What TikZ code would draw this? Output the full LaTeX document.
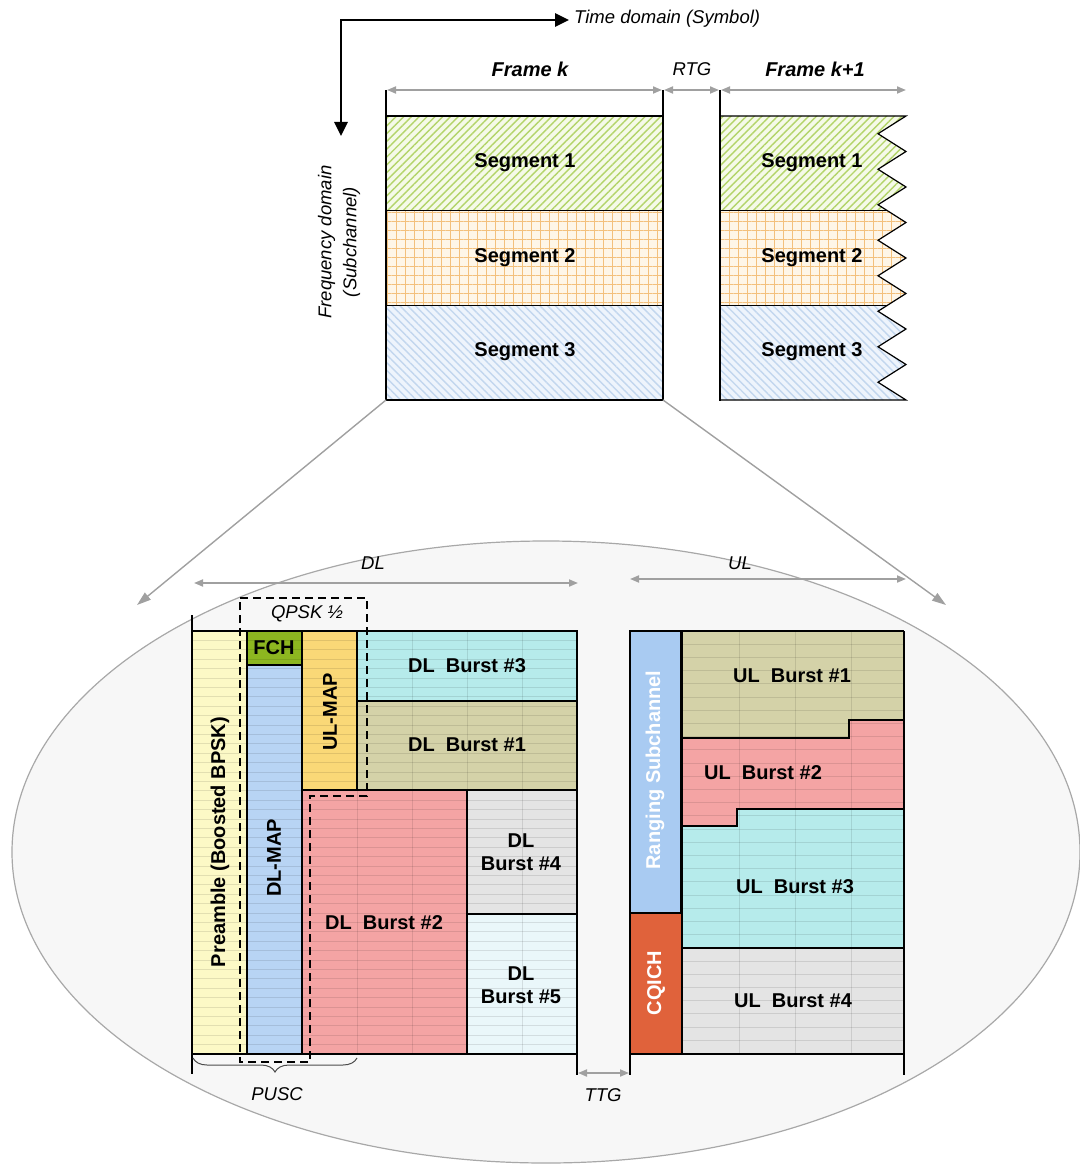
\documentclass[tikz,border=0pt]{standalone}
\usepackage{fontspec}
\setmainfont{Liberation Sans}
\usetikzlibrary{arrows.meta,patterns.meta,decorations.pathreplacing,calc}
\definecolor{seggreenbg}{HTML}{F5FAE8}
\definecolor{seggreen}{HTML}{B3D46A}
\definecolor{segorangebg}{HTML}{FEF6E8}
\definecolor{segorange}{HTML}{F3C07C}
\definecolor{segbluebg}{HTML}{EEF4FC}
\definecolor{segblue}{HTML}{C2D6EE}
\definecolor{preyellow}{HTML}{FCF9C6}
\definecolor{fchgreen}{HTML}{8DB620}
\definecolor{mapblue}{HTML}{B8D4F4}
\definecolor{ulmapyellow}{HTML}{FAD877}
\definecolor{burstcyan}{HTML}{B6EBEB}
\definecolor{burstkhaki}{HTML}{D4D2A8}
\definecolor{burstpink}{HTML}{F4A4A4}
\definecolor{burstgray}{HTML}{E4E4E4}
\definecolor{burstlight}{HTML}{EAF7FA}
\definecolor{rangingblue}{HTML}{A9CBF2}
\definecolor{cqichred}{HTML}{E0623B}
\definecolor{ellfill}{HTML}{F7F7F7}
\definecolor{ellline}{HTML}{A8A8A8}
\definecolor{dimgray}{HTML}{A0A0A0}
\begin{document}
\begin{tikzpicture}[x=1pt,y=-1pt,
  lbl/.style={font=\fontsize{18.5}{24}\selectfont\itshape, inner sep=0pt},
  blbl/.style={font=\fontsize{20}{23}\selectfont\bfseries, inner sep=0pt, align=center},
  bilbl/.style={font=\fontsize{20}{23}\selectfont\bfseries\itshape, inner sep=0pt},
  dimline/.style={draw=dimgray, line width=1.8pt, {Triangle[length=9pt,width=7pt]}-{Triangle[length=9pt,width=7pt]}},
  axisline/.style={line width=2.6pt, line join=miter, {Triangle[length=14pt,width=13pt]}-{Triangle[length=14pt,width=13pt]}},
  zoomline/.style={draw=dimgray, line width=1.4pt, -{Triangle[length=14pt,width=9pt]}},
  blk/.style={draw=black, line width=1.2pt},
  thickline/.style={line width=2.4pt},
  gridl/.style={draw=black, opacity=0.10, line width=0.8pt},
  pat1/.style={preaction={fill=seggreenbg}, pattern={Lines[angle=45,distance=5.5pt,line width=1.4pt]}, pattern color=seggreen},
  pat2/.style={preaction={fill=segorangebg}, pattern={Hatch[angle=0,distance=9pt,line width=0.7pt]}, pattern color=segorange},
  pat3/.style={preaction={fill=segbluebg}, pattern={Lines[angle=-45,distance=5.5pt,line width=1.4pt]}, pattern color=segblue}
]
\useasboundingbox (0,0) rectangle (1079,1166);

% ---------- axes ----------
\coordinate (axT) at (569,20);
\coordinate (ax0) at (341,20);
\coordinate (axF) at (341,136);
\draw[axisline] (axT) -- (ax0) -- (axF);
\node[lbl, anchor=west] (timelbl) at (574,19) {Time domain (Symbol)};
\node[lbl, rotate=90, align=center, font=\fontsize{18.5}{25}\selectfont\itshape] (freqlbl) at (339,242) {Frequency domain\\(Subchannel)};

% ---------- ellipse (zoom) ----------
\draw[fill=ellfill, draw=ellline, line width=1.2pt] (546,852) ellipse [x radius=534pt, y radius=311pt];

% ---------- Frame k ----------
\path[pat1] (386,116) rectangle (663,210.7);
\path[pat2] (386,210.7) rectangle (663,305.3);
\path[pat3] (386,305.3) rectangle (663,400);
\draw[blk] (386,116) -- (663,116);
\draw[blk] (386,210.7) -- (663,210.7);
\draw[blk] (386,305.3) -- (663,305.3);
\draw[blk] (386,400) -- (663,400);
\draw[thickline] (386,90) -- (386,401);
\draw[thickline] (663,90) -- (663,401);
\coordinate (fkBL) at (386,400);
\coordinate (fkBR) at (663,400);
\node[blbl] (fks1) at (525,163) {Segment 1};
\node[blbl] (fks2) at (525,258) {Segment 2};
\node[blbl] (fks3) at (525,352) {Segment 3};

% ---------- Frame k+1 ----------
\begin{scope}
\clip (720,116) -- (906,116) \foreach \k in {0,...,7} { -- (878,{133.75+35.5*\k}) -- (906,{151.5+35.5*\k}) } -- (720,400) -- cycle;
\path[pat1] (720,116) rectangle (910,210.7);
\path[pat2] (720,210.7) rectangle (910,305.3);
\path[pat3] (720,305.3) rectangle (910,400);
\draw[blk] (720,210.7) -- (910,210.7);
\draw[blk] (720,305.3) -- (910,305.3);
\end{scope}
\draw[blk, line join=miter] (720,116) -- (906,116) \foreach \k in {0,...,7} { -- (878,{133.75+35.5*\k}) -- (906,{151.5+35.5*\k}) } -- (720,400);
\draw[thickline] (720,90) -- (720,401);
\node[blbl] (fk1s1) at (812,163) {Segment 1};
\node[blbl] (fk1s2) at (812,258) {Segment 2};
\node[blbl] (fk1s3) at (812,352) {Segment 3};

% ---------- frame dimension arrows ----------
\coordinate (dk0) at (387,90); \coordinate (dk1) at (662,90);
\coordinate (dr0) at (664,90); \coordinate (dr1) at (719,90);
\coordinate (dn0) at (721,90); \coordinate (dn1) at (906,90);
\draw[dimline] (dk0) -- (dk1);
\draw[dimline] (dr0) -- (dr1);
\draw[dimline] (dn0) -- (dn1);
\node[bilbl] (framek) at (530,69) {Frame k};
\node[lbl] (rtg) at (692,69) {RTG};
\node[bilbl] (framek1) at (815,69) {Frame k+1};

% ---------- zoom lines ----------
\coordinate (zl) at (137,605);
\coordinate (zr) at (946,605);
\draw[zoomline] (fkBL) -- (zl);
\draw[zoomline] (fkBR) -- (zr);

% ---------- DL / UL dimension ----------
\coordinate (dl0) at (194,583); \coordinate (dl1) at (578,583);
\coordinate (ul0) at (630,579); \coordinate (ul1) at (906,579);
\draw[dimline] (dl0) -- (dl1);
\draw[dimline] (ul0) -- (ul1);
\node[lbl] (dllbl) at (373,563) {DL};
\node[lbl] (ullbl) at (740,563) {UL};

% ---------- DL subframe fills ----------
\fill[preyellow] (192,631) rectangle (247,1054);
\fill[fchgreen] (247,631) rectangle (302,665);
\fill[mapblue] (247,665) rectangle (302,1054);
\fill[ulmapyellow] (302,631) rectangle (357,790);
\fill[burstcyan] (357,631) rectangle (577,701);
\fill[burstkhaki] (357,701) rectangle (577,790);
\fill[burstpink] (302,790) rectangle (467,1054);
\fill[burstgray] (467,790) rectangle (577,914);
\fill[burstlight] (467,914) rectangle (577,1054);
% grid
\foreach \i in {1,...,44} { \draw[gridl] (193,{631+9.4*\i}) -- (577,{631+9.4*\i}); }
\foreach \xx in {357,412,467,522} { \draw[gridl] (\xx,631) -- (\xx,1054); }
% borders
\draw[blk] (247,631) rectangle (302,665);
\draw[blk] (247,665) rectangle (302,1054);
\draw[blk] (302,631) rectangle (357,790);
\draw[blk] (357,631) rectangle (577,701);
\draw[blk] (357,701) rectangle (577,790);
\draw[blk] (302,790) rectangle (467,1054);
\draw[blk] (467,790) rectangle (577,914);
\draw[blk] (467,914) rectangle (577,1054);
\draw[blk] (192,631) -- (577,631);
\draw[blk] (192,1054) -- (577,1054);
\draw[blk] (577,631) -- (577,1075);
\draw[thickline] (192,615) -- (192,1074);

% ---------- DL labels ----------
\node[blbl] (fch) at (274,648) {FCH};
\node[blbl, rotate=90] (ulmap) at (330,712) {UL-MAP};
\node[blbl, rotate=90] (dlmap) at (274,858) {DL-MAP};
\node[blbl, rotate=90] (preamble) at (220,842) {Preamble (Boosted BPSK)};
\node[blbl] (dlb3) at (467,666) {DL\ \ Burst \#3};
\node[blbl] (dlb1) at (467,745) {DL\ \ Burst \#1};
\node[blbl] (dlb2) at (384,923) {DL\ \ Burst \#2};
\node[blbl] (dlb4) at (521,852) {DL\\Burst \#4};
\node[blbl] (dlb5) at (521,985) {DL\\Burst \#5};

% ---------- QPSK dashed box ----------
\draw[line width=1.5pt, dash pattern=on 8pt off 5pt] (240,598) -- (367,598) -- (367,796) -- (310,796) -- (310,1062) -- (240,1062) -- cycle;
\node[lbl] (qpsk) at (307,614) {QPSK ½};

% ---------- PUSC brace ----------
\coordinate (pb0) at (193,1058); \coordinate (pb1) at (357,1058);
\draw[draw=black!70, line width=1pt, decorate, decoration={brace, mirror, amplitude=14pt}] (pb0) -- (pb1);
\node[lbl] (pusc) at (277,1094) {PUSC};

% ---------- TTG ----------
\coordinate (tt0) at (578,1073); \coordinate (tt1) at (629,1073);
\draw[dimline] (tt0) -- (tt1);
\node[lbl] (ttg) at (603,1095) {TTG};

% ---------- UL subframe ----------
\fill[rangingblue] (630,631) rectangle (681,913);
\fill[cqichred] (630,913) rectangle (682,1054);
\fill[burstkhaki] (682,631) -- (904,631) -- (904,720) -- (849,720) -- (849,738) -- (682,738) -- cycle;
\fill[burstpink] (682,738) -- (849,738) -- (849,720) -- (904,720) -- (904,809) -- (737,809) -- (737,826) -- (682,826) -- cycle;
\fill[burstcyan] (682,826) -- (737,826) -- (737,809) -- (904,809) -- (904,948) -- (682,948) -- cycle;
\fill[burstgray] (682,948) rectangle (904,1054);
\foreach \i in {1,...,31} { \draw[gridl] (682,{631+13.2*\i}) -- (904,{631+13.2*\i}); }
\foreach \xx in {739,795,851} { \draw[gridl] (\xx,631) -- (\xx,1054); }
\draw[blk] (630,631) rectangle (681,913);
\draw[blk] (630,913) rectangle (682,1054);
\draw[blk] (682,738) -- (849,738) -- (849,720) -- (904,720);
\draw[blk] (682,826) -- (737,826) -- (737,809) -- (904,809);
\draw[blk] (682,948) -- (904,948);
\draw[blk] (682,631) -- (682,1054);
\draw[blk] (630,631) -- (904,631);
\draw[blk] (630,1054) -- (904,1054);
\draw[blk] (630,631) -- (630,1075);
\draw[blk] (904,631) -- (904,1075);
\node[blbl, rotate=90, text=white] (ranging) at (655,770) {Ranging Subchannel};
\node[blbl, rotate=90, text=white] (cqich) at (656,983) {CQICH};
\node[blbl] (ulb1) at (792,676) {UL\ \ Burst \#1};
\node[blbl] (ulb2) at (763,773) {UL\ \ Burst \#2};
\node[blbl] (ulb3) at (795,887) {UL\ \ Burst \#3};
\node[blbl] (ulb4) at (793,1001) {UL\ \ Burst \#4};
\end{tikzpicture}
\end{document}
